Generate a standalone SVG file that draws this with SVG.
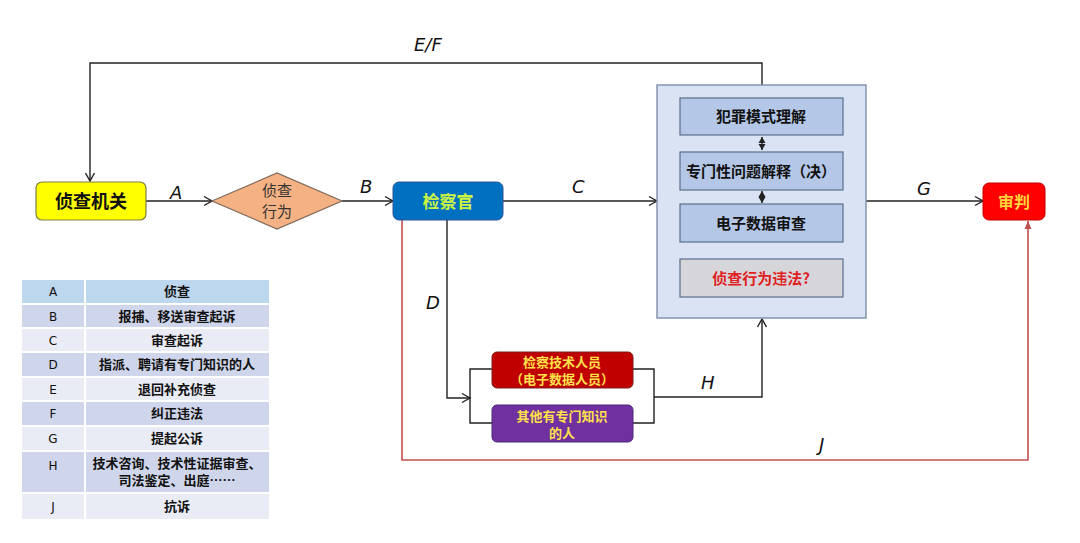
<svg xmlns="http://www.w3.org/2000/svg" width="1080" height="543" viewBox="0 0 1080 543">
<defs>
<marker id="open" markerWidth="12" markerHeight="12" refX="10" refY="6" orient="auto" markerUnits="userSpaceOnUse">
<path d="M2,1.5 L10,6 L2,10.5" fill="none" stroke="#222" stroke-width="1.4"/>
</marker>
<marker id="redtri" markerWidth="10" markerHeight="10" refX="8" refY="5" orient="auto" markerUnits="userSpaceOnUse">
<path d="M0,1.5 L8,5 L0,8.5 Z" fill="#C0504D"/>
</marker>
<marker id="dtri" markerWidth="8" markerHeight="8" refX="6" refY="4" orient="auto" markerUnits="userSpaceOnUse">
<path d="M0,0.5 L6,4 L0,7.5 Z" fill="#222"/>
</marker>
<marker id="dtriS" markerWidth="8" markerHeight="8" refX="0" refY="4" orient="auto" markerUnits="userSpaceOnUse">
<path d="M6,0.5 L0,4 L6,7.5 Z" fill="#222"/>
</marker>
</defs>
<style>
.cn{font-family:"Noto Sans CJK SC","Noto Sans",sans-serif;}
.b{font-weight:bold;}
.lbl{font-family:"DejaVu Sans","Liberation Sans",sans-serif;font-style:italic;font-size:18px;fill:#111;}
.ln{fill:none;stroke:#222;stroke-width:1.4;}
.red{fill:none;stroke:#C0504D;stroke-width:1.6;}
.inner{fill:#B4C7E7;stroke:#5A6E8C;stroke-width:1.2;}
.leg{font-family:"Noto Sans CJK SC",sans-serif;font-weight:bold;font-size:13px;fill:#111;}
.legl{font-family:"DejaVu Sans","Liberation Sans",sans-serif;font-size:12px;fill:#111;}
.rd{fill:#CFD5EA;}
.rl{fill:#E9EBF5;}
</style>
<rect width="1080" height="543" fill="#FFFFFF"/>

<g id="connectors">
<path class="ln" d="M762,85 V63 H90 V181" marker-end="url(#open)"/>
<path class="ln" d="M146,201 H212" marker-end="url(#open)"/>
<path class="ln" d="M342,201 H393" marker-end="url(#open)"/>
<path class="ln" d="M503,201 H657" marker-end="url(#open)"/>
<path class="ln" d="M866,201 H983" marker-end="url(#open)"/>
<path class="ln" d="M447,220 V398 H470" marker-end="url(#open)"/>
<path class="ln" d="M492,369 H470 V423 H492"/>
<path class="ln" d="M633,369 H654 V423 H633"/>
<path class="ln" d="M654,397 H762 V319" marker-end="url(#open)"/>
<path class="red" d="M402,220 V460 H1028 V221" marker-end="url(#redtri)"/>
<text class="lbl" x="414" y="51">E/F</text>
<text class="lbl" x="170" y="199">A</text>
<text class="lbl" x="360" y="193">B</text>
<text class="lbl" x="572" y="193">C</text>
<text class="lbl" x="917" y="195">G</text>
<text class="lbl" x="426" y="309">D</text>
<text class="lbl" x="701" y="389">H</text>
<text class="lbl" x="819" y="451">J</text>
</g>

<g id="node-zhenchajiguan">
<rect x="36" y="182" width="110" height="38" rx="6" fill="#FFFF00" stroke="#7F7F3F" stroke-width="1.2"/>
<text class="cn b" x="91" y="208" font-size="18" text-anchor="middle" fill="#111">侦查机关</text>
</g>

<g id="node-zhenchaxingwei">
<polygon points="212,201 277,173 342,201 277,229" fill="#F4B183" stroke="#7F6A5A" stroke-width="1.2"/>
<text class="cn" x="277" y="196" font-size="15" text-anchor="middle" fill="#333">侦查</text>
<text class="cn" x="277" y="217" font-size="15" text-anchor="middle" fill="#333">行为</text>
</g>

<g id="node-jianchaguan">
<rect x="393" y="182" width="110" height="38" rx="6" fill="#0070C0" stroke="#2F5597" stroke-width="1"/>
<text class="cn b" x="448" y="208" font-size="17" text-anchor="middle" fill="#CCF542">检察官</text>
</g>

<g id="node-review">
<rect x="657" y="85" width="209" height="233" fill="#DAE3F3" stroke="#7F8FA9" stroke-width="1.4"/>
<rect class="inner" x="680" y="98" width="163" height="37"/>
<text class="cn b" x="761" y="122" font-size="15" text-anchor="middle" fill="#111">犯罪模式理解</text>
<rect class="inner" x="680" y="152" width="163" height="38"/>
<text class="cn b" x="761" y="177" font-size="15" text-anchor="middle" fill="#111">专门性问题解释（决）</text>
<rect class="inner" x="680" y="204" width="163" height="38"/>
<text class="cn b" x="761" y="229" font-size="15" text-anchor="middle" fill="#111">电子数据审查</text>
<rect x="680" y="259" width="163" height="38" fill="#D6D6DA" stroke="#5A6E8C" stroke-width="1.2"/>
<text class="cn b" x="761" y="284" font-size="15" text-anchor="middle" fill="#E02020">侦查行为违法?</text>
<line x1="762" y1="137" x2="762" y2="150" stroke="#222" stroke-width="1.4" marker-start="url(#dtriS)" marker-end="url(#dtri)"/>
<line x1="762" y1="191" x2="762" y2="203" stroke="#222" stroke-width="1.4" marker-start="url(#dtriS)" marker-end="url(#dtri)"/>
</g>

<g id="node-shenpan">
<rect x="983" y="183" width="62" height="37" rx="6" fill="#FF0000" stroke="#C00000" stroke-width="1"/>
<text class="cn b" x="1014" y="208" font-size="16" text-anchor="middle" fill="#FFD43B">审判</text>
</g>

<g id="node-jishurenyuan">
<rect x="492" y="352" width="141" height="36" rx="5" fill="#C00000" stroke="#7F1F1F" stroke-width="1"/>
<text class="cn b" x="562" y="367" font-size="13" text-anchor="middle" fill="#FFE24A">检察技术人员</text>
<text class="cn b" x="562" y="384" font-size="13" text-anchor="middle" fill="#FFE24A">（电子数据人员）</text>
</g>

<g id="node-qita">
<rect x="492" y="405" width="141" height="37" rx="5" fill="#7030A0" stroke="#4A2A7A" stroke-width="1"/>
<text class="cn b" x="562" y="421" font-size="13" text-anchor="middle" fill="#FFE24A">其他有专门知识</text>
<text class="cn b" x="562" y="438" font-size="13" text-anchor="middle" fill="#FFE24A">的人</text>
</g>

<g id="legend">
<rect x="22" y="280" width="62" height="23" fill="#BDD7EE"/>
<rect x="86" y="280" width="183" height="23" fill="#BDD7EE"/>
<rect class="rd" x="22" y="305" width="62" height="22"/><rect class="rd" x="86" y="305" width="183" height="22"/>
<rect class="rl" x="22" y="329" width="62" height="22"/><rect class="rl" x="86" y="329" width="183" height="22"/>
<rect class="rd" x="22" y="353" width="62" height="23"/><rect class="rd" x="86" y="353" width="183" height="23"/>
<rect class="rl" x="22" y="378" width="62" height="22"/><rect class="rl" x="86" y="378" width="183" height="22"/>
<rect class="rd" x="22" y="402" width="62" height="23"/><rect class="rd" x="86" y="402" width="183" height="23"/>
<rect class="rl" x="22" y="427" width="62" height="23"/><rect class="rl" x="86" y="427" width="183" height="23"/>
<rect class="rd" x="22" y="452" width="62" height="40"/><rect class="rd" x="86" y="452" width="183" height="40"/>
<rect class="rl" x="22" y="494" width="62" height="25"/><rect class="rl" x="86" y="494" width="183" height="25"/>
<g text-anchor="middle">
<text class="legl" x="53" y="296">A</text><text class="leg" x="177" y="296">侦查</text>
<text class="legl" x="53" y="321">B</text><text class="leg" x="177" y="321">报捕、移送审查起诉</text>
<text class="legl" x="53" y="345">C</text><text class="leg" x="177" y="345">审查起诉</text>
<text class="legl" x="53" y="369">D</text><text class="leg" x="177" y="369">指派、聘请有专门知识的人</text>
<text class="legl" x="53" y="394">E</text><text class="leg" x="177" y="394">退回补充侦查</text>
<text class="legl" x="53" y="418">F</text><text class="leg" x="177" y="418">纠正违法</text>
<text class="legl" x="53" y="443">G</text><text class="leg" x="177" y="443">提起公诉</text>
<text class="legl" x="53" y="470">H</text><text class="leg" x="177" y="468">技术咨询、技术性证据审查、</text>
<text class="leg" x="177" y="485">司法鉴定、出庭……</text>
<text class="legl" x="53" y="511">J</text><text class="leg" x="177" y="511">抗诉</text>
</g>
</g>
</svg>
